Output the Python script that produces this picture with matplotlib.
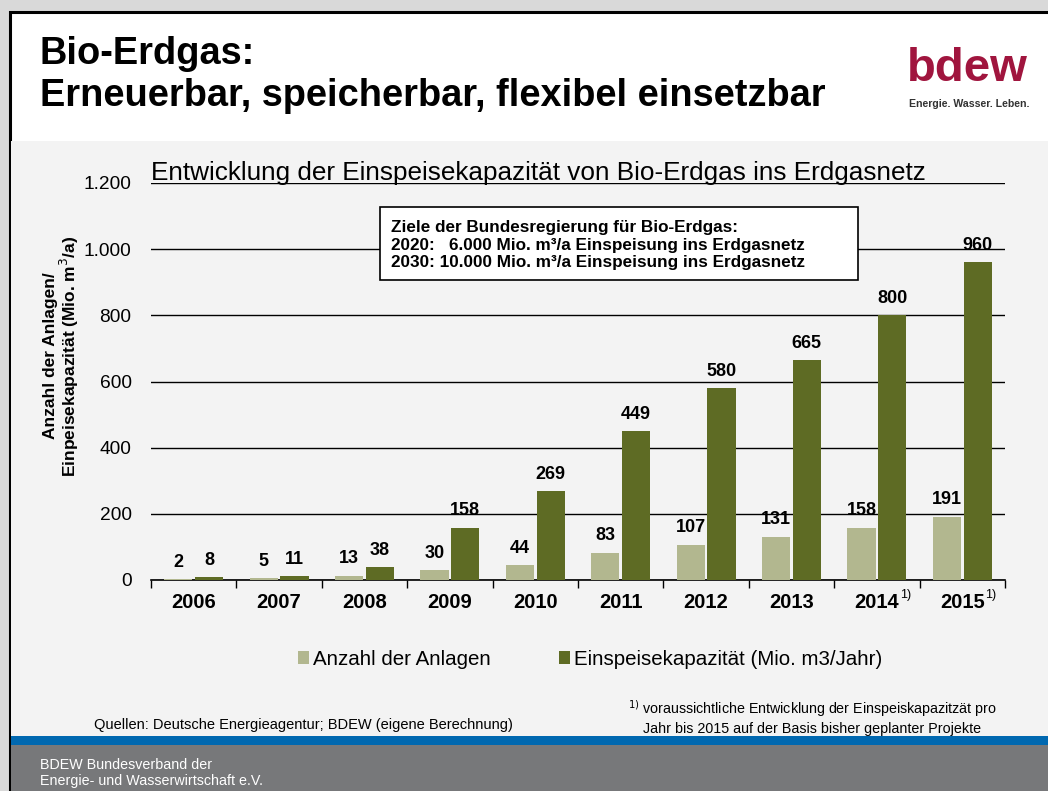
import matplotlib.pyplot as plt
from matplotlib.patches import Rectangle
import numpy as np

plt.rcParams['font.family'] = ['Liberation Sans', 'DejaVu Sans']

years = ['2006', '2007', '2008', '2009', '2010', '2011', '2012', '2013', '2014', '2015']
footnoted = ['2014', '2015']
anlagen = [2, 5, 13, 30, 44, 83, 107, 131, 158, 191]
kapazitaet = [8, 11, 38, 158, 269, 449, 580, 665, 800, 960]
yticks = [0, 200, 400, 600, 800, 1000, 1200]
ytick_labels = ['0', '200', '400', '600', '800', '1.000', '1.200']

W, H = 1048, 791
fig = plt.figure(figsize=(W / 100, H / 100), dpi=100, facecolor='#d9d9d9')


def px_rect(x0, y0, x1, y1, **kw):
    # rectangle given in pixel coords measured from the top-left corner
    r = Rectangle((x0 / W, 1 - y1 / H), (x1 - x0) / W, (y1 - y0) / H,
                  transform=fig.transFigure, zorder=-5, **kw)
    fig.patches.append(r)


# slide background pieces
px_rect(10, 12, W + 5, H + 5, facecolor='white', edgecolor='black', linewidth=2.2)
px_rect(11, 141, W, 736, facecolor='#f3f3f3', edgecolor='none')
px_rect(11, 736, W, 745, facecolor='#0068b0', edgecolor='none')
px_rect(11, 745, W, H, facecolor='#77787a', edgecolor='none')

# header
fig.text(40 / W, 1 - 75 / H, 'Bio-Erdgas:\nErneuerbar, speicherbar, flexibel einsetzbar',
         fontsize=27.4, fontweight='bold', va='center', ha='left', linespacing=1.2)
fig.text(967 / W, 1 - 69 / H, 'bdew', fontsize=34, fontweight='bold', color='#a0153e',
         ha='center', va='center')
fig.text(969 / W, 1 - 104 / H, 'Energie. Wasser. Leben.', fontsize=7.6, fontweight='bold',
         color='#333333', ha='center', va='center')

# chart
ax = fig.add_axes([151 / W, 211 / H, (1005 - 151) / W, (580 - 183) / H])
ax.patch.set_alpha(0)

x = np.arange(len(years))
bw = 0.33
b1 = ax.bar(x - 0.18, anlagen, bw, color='#b2b78f', label='Anzahl der Anlagen', zorder=3)
b2 = ax.bar(x + 0.18, kapazitaet, bw, color='#5e6b24',
            label='Einspeisekapazität (Mio. m3/Jahr)', zorder=3)
for bars in (b1, b2):
    ax.bar_label(bars, padding=6, fontsize=13, fontweight='bold')

ax.set_ylim(0, 1200)
ax.set_xlim(-0.5, len(years) - 0.5)
ax.set_yticks(yticks, ytick_labels, fontsize=13.8)
ax.tick_params(axis='y', length=0, pad=14)
ax.yaxis.grid(True, color='black', linewidth=1, zorder=0)
ax.set_axisbelow(True)

ax.set_xticks(x, years, fontsize=14.5, fontweight='bold')
ax.set_xticks(np.arange(-0.5, len(years)), minor=True)
ax.tick_params(axis='x', which='major', length=0, pad=9)
ax.tick_params(axis='x', which='minor', length=6, direction='out', width=1)
for i, y in enumerate(years):
    if y in footnoted:
        ax.annotate('1)', xy=(i, 0), xycoords=('data', 'axes fraction'),
                    xytext=(16.5, -11), textcoords='offset points', fontsize=9,
                    ha='left', va='center')

for s in ['top', 'right', 'left']:
    ax.spines[s].set_visible(False)
ax.spines['bottom'].set_linewidth(1.2)

ax.set_ylabel('Anzahl der Anlagen/\nEinpeisekapazität (Mio. m$^3$/a)', fontsize=12.5,
              fontweight='bold', linespacing=1.0)
ax.yaxis.set_label_coords(-0.082, 0.564)

ax.text(0, 1.0076, 'Entwicklung der Einspeisekapazität von Bio-Erdgas ins Erdgasnetz',
        transform=ax.transAxes, fontsize=18.8, ha='left', va='baseline')

# target box
ax.add_patch(Rectangle((0.2681, 0.7557), 0.8279 - 0.2681, 0.9395 - 0.7557,
                       transform=ax.transAxes, facecolor='white', edgecolor='black',
                       linewidth=1.2, zorder=5))
ax.text(0.281, 0.8438,
        'Ziele der Bundesregierung für Bio-Erdgas:\n'
        '2020:   6.000 Mio. m³/a Einspeisung ins Erdgasnetz\n'
        '2030: 10.000 Mio. m³/a Einspeisung ins Erdgasnetz',
        transform=ax.transAxes, fontsize=12.3, fontweight='bold', ha='left', va='center',
        linespacing=1.2, zorder=6)

ax.legend(loc='center', bbox_to_anchor=(0.514, -0.2), ncol=2, frameon=False, fontsize=14.75,
          handlelength=0.55, handleheight=0.55, handletextpad=0.2, columnspacing=3.3)

# footer texts
fig.text(303 / W, 1 - 725 / H, 'Quellen: Deutsche Energieagentur; BDEW (eigene Berechnung)',
         fontsize=10.5, ha='center', va='center')
fig.text(812 / W, 1 - 717 / H,
         '$^{1)}$ voraussichtliche Entwicklung der Einspeiskapazitzät pro\n'
         'Jahr bis 2015 auf der Basis bisher geplanter Projekte',
         fontsize=10.3, ha='center', va='center', linespacing=1.2)
fig.text(40 / W, 1 - 773 / H, 'BDEW Bundesverband der\nEnergie- und Wasserwirtschaft e.V.',
         fontsize=10.3, color='white', ha='left', va='center', linespacing=1.1)

fig.savefig('out.png', dpi=100, facecolor=fig.get_facecolor())
